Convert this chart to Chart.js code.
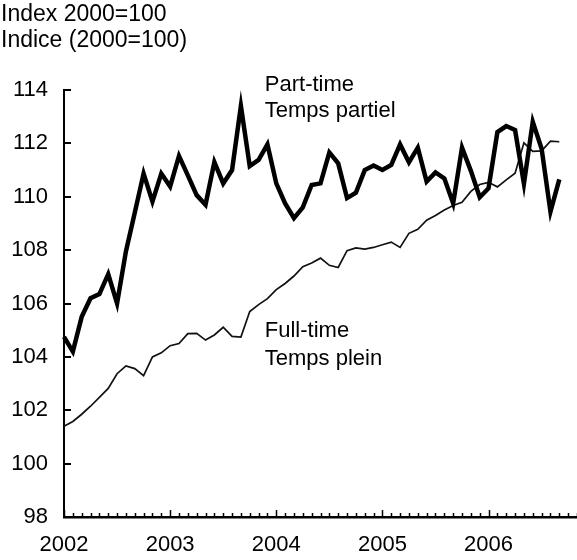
<!DOCTYPE html>
<html>
<head>
<meta charset="utf-8">
<script src="https://cdn.jsdelivr.net/npm/chart.js@4.4.1/dist/chart.umd.min.js"></script>
<style>
  html, body { margin: 0; padding: 0; background: #fff; }
  #wrap { width: 577px; height: 560px; }
</style>
</head>
<body>
<div id="wrap"><canvas id="chart" width="577" height="560"></canvas></div>
<script>
// Data
const years = ["2002", "2003", "2004", "2005", "2006"];

// monthly categories, Jan 2002 .. Nov 2006 (axis runs a bit past the last month of data)
const months = [];
years.forEach(function (y) {
  for (let m = 1; m <= 12; m++) months.push(y + "-" + String(m).padStart(2, "0"));
});
months.length = 59;

// Jan 2002 .. Sep 2006
const partTime = [
  104.75, 104.2, 105.5, 106.2, 106.35, 107.1, 106.0, 107.95, 109.4, 110.87, 109.82, 110.87,
  110.38, 111.53, 110.8, 110.06, 109.7, 111.3, 110.5, 111.0, 113.4, 111.15, 111.38, 111.96,
  110.5, 109.75, 109.2, 109.6, 110.44, 110.5, 111.66, 111.25, 109.95, 110.15, 111.0, 111.17,
  111.0, 111.19, 111.96, 111.29, 111.84, 110.57, 110.91, 110.69, 109.75, 111.84, 110.97, 109.98,
  110.32, 112.42, 112.65, 112.5, 110.49, 112.81, 111.8, 109.44, 110.65,
];
const fullTime = [
  101.4, 101.58, 101.85, 102.15, 102.48, 102.82, 103.37, 103.66, 103.56, 103.3, 104.0, 104.15,
  104.42, 104.5, 104.87, 104.88, 104.63, 104.82, 105.11, 104.77, 104.74, 105.7, 105.96, 106.18,
  106.52, 106.75, 107.03, 107.38, 107.52, 107.7, 107.43, 107.35, 107.98, 108.08, 108.04, 108.1,
  108.2, 108.3, 108.1, 108.63, 108.78, 109.12, 109.3, 109.5, 109.67, 109.79, 110.2, 110.46,
  110.54, 110.37, 110.63, 110.88, 112.02, 111.7, 111.72, 112.08, 112.06,
];

const yMin = 98;
const yMax = 114;
const yStep = 2;

const titleLines = ["Index 2000=100", "Indice (2000=100)"];

const FONT = "'Liberation Sans', Arial, Helvetica, sans-serif";
const FONT_SIZE = 22;

Chart.defaults.font.family = FONT;
Chart.defaults.font.size = FONT_SIZE;
Chart.defaults.color = "#000";

// ticks point inward, monthly on x with taller ones at each January
const innerTicks = {
  id: "innerTicks",
  beforeDatasetsDraw(chart) {
    const { ctx, chartArea, scales } = chart;
    ctx.save();
    ctx.strokeStyle = "#000";
    ctx.lineWidth = 2;
    scales.y.ticks.forEach(function (t) {
      const py = Math.round(scales.y.getPixelForValue(t.value));
      ctx.beginPath();
      ctx.moveTo(chartArea.left, py);
      ctx.lineTo(chartArea.left + 7, py);
      ctx.stroke();
    });
    ctx.lineWidth = 1.5;
    months.forEach(function (m, i) {
      const px = Math.round(scales.x.getPixelForValue(i)) + 0.5;
      const len = m.endsWith("-01") ? 7 : 4;
      ctx.beginPath();
      ctx.moveTo(px, chartArea.bottom);
      ctx.lineTo(px, chartArea.bottom - len);
      ctx.stroke();
    });
    ctx.restore();
  },
};

// title in the top left corner, series names placed next to their lines
const notes = {
  id: "notes",
  afterDraw(chart) {
    const { ctx, scales } = chart;
    const x = scales.x, y = scales.y;
    ctx.save();
    ctx.fillStyle = "#000";
    ctx.textAlign = "left";
    ctx.textBaseline = "alphabetic";
    ctx.font = "23px " + FONT;
    ctx.fillText(titleLines[0], 1, 21);
    ctx.fillText(titleLines[1], 1, 47);

    ctx.font = FONT_SIZE + "px " + FONT;
    const lx = x.getPixelForValue(22.7);
    let by = y.getPixelForValue(113.95);
    ctx.fillText("Part-time", lx, by);
    ctx.fillText("Temps partiel", lx, by + 26);
    by = y.getPixelForValue(104.76);
    ctx.fillText("Full-time", lx, by);
    ctx.fillText("Temps plein", lx, by + 28);
    ctx.restore();
  },
};

const ctx = document.getElementById("chart").getContext("2d");

new Chart(ctx, {
  type: "line",
  data: {
    labels: months,
    datasets: [
      {
        label: "Part-time / Temps partiel",
        data: partTime,
        borderColor: "#000",
        borderWidth: 4.5,
        borderJoinStyle: "miter",
        pointRadius: 0,
        tension: 0,
      },
      {
        label: "Full-time / Temps plein",
        data: fullTime,
        borderColor: "#111",
        borderWidth: 1.7,
        pointRadius: 0,
        tension: 0,
      },
    ],
  },
  options: {
    responsive: false,
    animation: false,
    layout: {
      padding: { top: 90, left: 0, right: 0, bottom: 0 },
    },
    plugins: {
      legend: { display: false },
      tooltip: { enabled: false },
      title: { display: false },
    },
    scales: {
      x: {
        offset: false,
        grid: { display: false, drawTicks: false },
        border: { display: true, color: "#000", width: 2.5 },
        ticks: {
          autoSkip: false,
          maxRotation: 0,
          padding: 15,
          callback: function (value) {
            const l = this.getLabelForValue(value);
            return l.endsWith("-01") ? l.slice(0, 4) : "";
          },
        },
        afterFit: function (scale) {
          scale.height = 43;
          scale.paddingLeft = 0;
          scale.paddingRight = 0;
        },
      },
      y: {
        min: yMin,
        max: yMax,
        grid: { display: false, drawTicks: false },
        border: { display: true, color: "#000", width: 2 },
        ticks: {
          stepSize: yStep,
          padding: 16,
        },
        afterFit: function (scale) {
          scale.width = 64;
        },
      },
    },
  },
  plugins: [innerTicks, notes],
});
</script>
</body>
</html>
